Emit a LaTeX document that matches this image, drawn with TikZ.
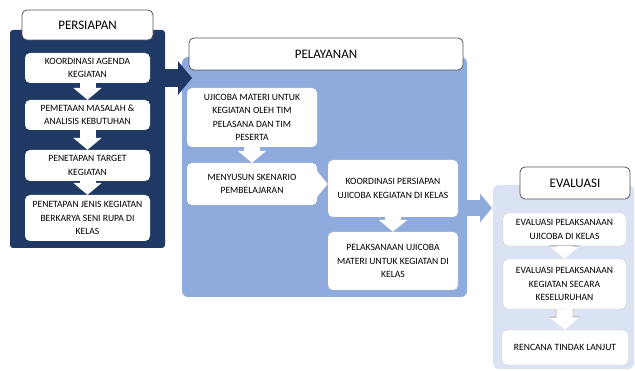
\documentclass[tikz,border=0pt]{standalone}
\usepackage{fontspec}
\setmainfont{Carlito}
\usepackage{tikz}
\usetikzlibrary{positioning}
\usetikzlibrary{arrows.meta}

\definecolor{prepNavy}{RGB}{31,56,100}
\definecolor{servBlue}{RGB}{143,170,220}
\definecolor{evalBlue}{RGB}{218,227,243}
\definecolor{titleLine}{RGB}{85,85,85}

\tikzset{
	panel/.style={rectangle, rounded corners=6pt, inner sep=0pt},
	title/.style={rectangle, rounded corners=5pt, draw=titleLine, line width=0.8pt,
		fill=white, inner sep=0pt, font=\fontsize{13}{15}\selectfont},
	stepbox/.style={rectangle, rounded corners=5pt, fill=white, align=center,
		inner sep=0pt, font=\fontsize{9.6}{13.4}\selectfont},
	flow/.style={white, line width=16pt, -{Triangle[length=12pt,width=28pt]}},
	flowedge/.style={draw=gray!45, line width=17.6pt, -{Triangle[length=13.6pt,width=31pt]}},
	bigflow/.style={line width=18pt, -{Triangle[length=14pt,width=33pt]}},
}

\begin{document}
\begin{tikzpicture}[x=1pt, y=-1pt]
	
	\useasboundingbox (0,0) rectangle (635,371);
	
	% the three stage panels, back to front
	\node[panel, fill=prepNavy, rounded corners=3pt, minimum width=155pt, minimum height=218pt] (prepPanel) at (87.5,139) {};
	\node[panel, fill=servBlue, minimum width=285pt, minimum height=240pt] (servPanel) at (324.5,177) {};
	\node[panel, fill=evalBlue, minimum width=141pt, minimum height=184pt] (evalPanel) at (563.5,277) {};
	
	% tips of the big arrows between the stages
	\coordinate (servTip) at (192,78);
	\coordinate (evalTip) at (492,208);
	
	\draw[bigflow, prepNavy] (prepPanel.east |- servTip) -- (servTip);
	\draw[bigflow, servBlue, line width=16pt, -{Triangle[length=12pt,width=28pt]}] (servPanel.east |- evalTip) -- (evalTip);
	
	% titles
	\node[title, minimum width=131pt, minimum height=30pt] (prepTitle) at (87.5,25) {PERSIAPAN};
	\node[title, minimum width=274pt, minimum height=32pt] (servTitle) at (326,54) {PELAYANAN};
	\node[title, minimum width=110pt, minimum height=32pt] (evalTitle) at (575,183) {EVALUASI};
	
	%%%%%%%%%%%%%%%%%%%%%%%%%%%%%%%%%%%%%%%%%%%%%%%%%%%%%%%%%%%%%%
	% PERSIAPAN
	\node[stepbox, minimum width=125pt, minimum height=30pt] (P1) at (87.5,68) {KOORDINASI AGENDA\\KEGIATAN};
	\node[stepbox, minimum width=125pt, minimum height=30pt] (P2) at (87.5,115) {PEMETAAN MASALAH \&\\ANALISIS KEBUTUHAN};
	\node[stepbox, minimum width=125pt, minimum height=31pt] (P3) at (87.5,165.5) {PENETAPAN TARGET\\KEGIATAN};
	\node[stepbox, minimum width=125pt, minimum height=46pt] (P4) at (87.5,218) {PENETAPAN JENIS KEGIATAN\\BERKARYA SENI RUPA DI\\KELAS};
	
	\draw[flow] (P1.south) -- (P2.north);
	\draw[flow] (P2.south) -- (P3.north);
	\draw[flow] (P3.south) -- (P4.north);
	
	%%%%%%%%%%%%%%%%%%%%%%%%%%%%%%%%%%%%%%%%%%%%%%%%%%%%%%%%%%%%%%
	% PELAYANAN
	\node[stepbox, minimum width=130pt, minimum height=59pt] (S1) at (252,117.5) {UJICOBA MATERI UNTUK\\KEGIATAN OLEH TIM\\PELASANA DAN TIM\\PESERTA};
	\node[stepbox, minimum width=130pt, minimum height=42pt] (S2) at (252,184) {MENYUSUN SKENARIO\\PEMBELAJARAN};
	\node[stepbox, minimum width=130pt, minimum height=57pt] (S3) at (393,188.5) {KOORDINASI PERSIAPAN\\UJICOBA KEGIATAN DI KELAS};
	\node[stepbox, minimum width=130pt, minimum height=58pt] (S4) at (393,261) {PELAKSANAAN UJICOBA\\MATERI UNTUK KEGIATAN DI\\KELAS};
	
	\draw[flow] (S1.south) -- (S2.north);
	\draw[flow] (S2.east) -- (S2.east -| S3.west);
	\draw[flow] (S3.south) -- (S4.north);
	
	%%%%%%%%%%%%%%%%%%%%%%%%%%%%%%%%%%%%%%%%%%%%%%%%%%%%%%%%%%%%%%
	% EVALUASI
	\node[stepbox, draw=gray!40, minimum width=123pt, minimum height=33pt] (E1) at (564.5,229.5) {EVALUASI PELAKSANAAN\\UJICOBA DI KELAS};
	\node[stepbox, draw=gray!40, minimum width=123pt, minimum height=50pt] (E2) at (564.5,284) {EVALUASI PELAKSANAAN\\KEGIATAN SECARA\\KESELURUHAN};
	\node[stepbox, draw=gray!40, minimum width=127pt, minimum height=35pt] (E3) at (565,347.5) {RENCANA TINDAK LANJUT};
	
	\draw[flowedge] (E1.south) -- (E2.north);
	\draw[flow] (E1.south) -- (E2.north);
	\draw[flowedge] (E2.south) -- (E3.north);
	\draw[flow] (E2.south) -- (E3.north);
	
\end{tikzpicture}
\end{document}
